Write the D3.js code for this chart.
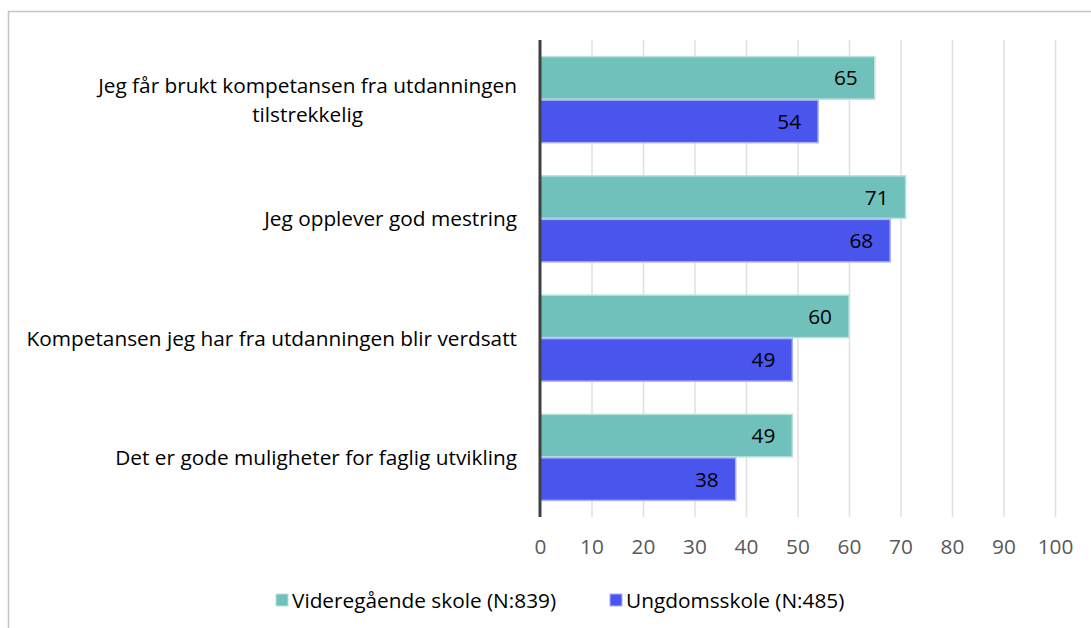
<!DOCTYPE html>
<html>
<head>
<meta charset="utf-8">
<script src="https://cdn.jsdelivr.net/npm/d3@7"></script>
<style>
  html, body { margin: 0; padding: 0; background: #fff; }
  svg { display: block; }
  text { font-family: "Open Sans", "Noto Sans", sans-serif; }
</style>
</head>
<body>
<svg id="chart" width="1091" height="628"></svg>
<script>
// Survey statements (two lines where the label wraps)
const categories = [
  ["Jeg får brukt kompetansen fra utdanningen", "tilstrekkelig"],
  ["Jeg opplever god mestring"],
  ["Kompetansen jeg har fra utdanningen blir verdsatt"],
  ["Det er gode muligheter for faglig utvikling"]
];
const seriesNames = ["Videregående skole (N:839)", "Ungdomsskole (N:485)"];
const videregaende = [65, 71, 60, 49];
const ungdomsskole = [54, 68, 49, 38];
const tickValues = [0, 10, 20, 30, 40, 50, 60, 70, 80, 90, 100];

const colors = ["#70c0bc", "#4a55ee"];
const strokes = ["#b9e2df", "#aab0f8"];
const fontSize = "20.8px";

const svg = d3.select("#chart");

// Frame around the chart area
svg.append("path")
  .attr("d", "M8.5,628 L8.5,11.5 L1091,11.5")
  .attr("fill", "none")
  .attr("stroke", "#c4c4c4")
  .attr("stroke-width", 1.5);

const plotLeft = 540, plotRight = 1055, plotTop = 40, plotBottom = 517;

const x = d3.scaleLinear().domain([0, 100]).range([plotLeft, plotRight]);
const y0 = d3.scaleBand().domain(d3.range(categories.length)).range([plotTop, plotBottom]).paddingInner(0.27).paddingOuter(0.135);
const y1 = d3.scaleBand().domain([0, 1]).range([0, y0.bandwidth()]);

// Vertical gridlines, fading towards the top
const defs = svg.append("defs");
const grad = defs.append("linearGradient")
  .attr("id", "gridFade").attr("gradientUnits", "userSpaceOnUse")
  .attr("x1", 0).attr("y1", plotTop).attr("x2", 0).attr("y2", plotBottom);
grad.append("stop").attr("offset", "0%").attr("stop-color", "#e0e0e0");
grad.append("stop").attr("offset", "100%").attr("stop-color", "#999999");

const gridAxis = d3.axisBottom(x).tickValues(tickValues.slice(1)).tickSize(-(plotBottom - plotTop)).tickFormat("");
const grid = svg.append("g").attr("transform", `translate(0,${plotBottom})`).call(gridAxis);
grid.select(".domain").remove();
grid.selectAll(".tick line").attr("stroke", "url(#gridFade)").attr("stroke-width", 1.5);

// Tick labels
const tickAxis = d3.axisBottom(x).tickValues(tickValues).tickSize(0).tickPadding(0);
const ticks = svg.append("g").attr("transform", `translate(0,${plotBottom})`).call(tickAxis);
ticks.select(".domain").remove();
ticks.selectAll(".tick text")
  .attr("y", 30)
  .attr("dy", "0.36em")
  .attr("fill", "#595959")
  .style("font-size", fontSize)
  .style("font-family", "\"Open Sans\", sans-serif");

// Bars
const data = categories.map((c, i) => ({ i, values: [videregaende[i], ungdomsskole[i]] }));
const groups = svg.append("g").selectAll("g").data(data).join("g")
  .attr("transform", d => `translate(0,${y0(d.i)})`);

groups.selectAll("rect").data(d => d.values.map((v, s) => ({ v, s }))).join("rect")
  .attr("x", x(0))
  .attr("y", d => y1(d.s) + 0.5)
  .attr("width", d => x(d.v) - x(0))
  .attr("height", y1.bandwidth() - 1)
  .attr("fill", d => colors[d.s])
  .attr("stroke", d => strokes[d.s])
  .attr("stroke-width", 1.5);

groups.selectAll("text.val").data(d => d.values.map((v, s) => ({ v, s }))).join("text")
  .attr("class", "val")
  .attr("x", d => x(d.v) - 17)
  .attr("y", d => y1(d.s) + y1.bandwidth() / 2)
  .attr("dy", "0.36em")
  .attr("text-anchor", "end")
  .attr("fill", "#000")
  .style("font-size", fontSize)
  .text(d => d.v);

// Category axis line
svg.append("line")
  .attr("x1", x(0)).attr("x2", x(0))
  .attr("y1", plotTop).attr("y2", plotBottom)
  .attr("stroke", "#404040").attr("stroke-width", 3);

// Category labels: block right-aligned, lines centred within the block
const catG = svg.append("g");
categories.forEach((lines, i) => {
  const cy = y0(i) + y0.bandwidth() / 2;
  const lh = 29;
  const t = catG.append("text")
    .attr("fill", "#000")
    .style("font-size", fontSize);
  lines.forEach((ln, k) => {
    t.append("tspan")
      .attr("x", 0)
      .attr("y", cy + (k - (lines.length - 1) / 2) * lh)
      .attr("dy", "0.36em")
      .text(ln);
  });
  const widths = t.selectAll("tspan").nodes().map(n => n.getComputedTextLength());
  const maxW = d3.max(widths);
  t.selectAll("tspan").attr("x", (d, k) => 517 - maxW + (maxW - widths[k]) / 2);
});

// Legend
const legend = svg.append("g").attr("transform", "translate(0,600)");
const legendX = [276, 610];
seriesNames.forEach((name, s) => {
  legend.append("rect")
    .attr("x", legendX[s]).attr("y", -6)
    .attr("width", 12).attr("height", 12)
    .attr("fill", colors[s]).attr("stroke", strokes[s]);
  legend.append("text")
    .attr("x", legendX[s] + 16).attr("y", 0).attr("dy", "0.36em")
    .attr("fill", "#000")
    .style("font-size", fontSize)
    .text(name);
});
</script>
</body>
</html>
